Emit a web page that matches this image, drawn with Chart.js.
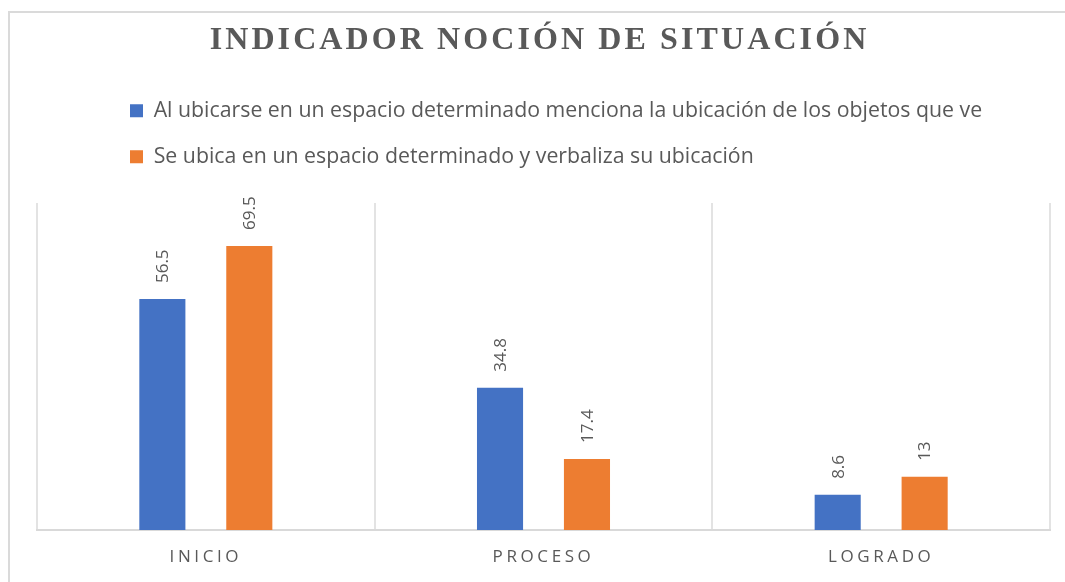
<!DOCTYPE html>
<html><head><meta charset="utf-8">
<script src="https://cdn.jsdelivr.net/npm/chart.js@4/dist/chart.umd.min.js"></script>
<style>
html,body{margin:0;padding:0;background:#fff;}
#wrap{position:relative;width:1065px;height:582px;overflow:hidden;background:#fff;}
#frame{position:absolute;left:8px;top:11px;width:1200px;height:700px;border:2px solid #dadada;box-sizing:border-box;}
canvas{position:absolute;left:0;top:0;}
</style></head><body>
<div id="wrap"><div id="frame"></div><canvas id="c" width="1065" height="582"></canvas></div>
<script>
// ---- data ----
const chartTitle = 'INDICADOR NOCIÓN DE SITUACIÓN';
const categories = ['INICIO', 'PROCESO', 'LOGRADO'];
const seriesNames = [
  'Al ubicarse en un espacio determinado menciona la ubicación de los objetos que ve',
  'Se ubica en un espacio determinado y verbaliza su ubicación'
];
const seriesA = [56.5, 34.8, 8.6];
const seriesB = [69.5, 17.4, 13];
const seriesColors = ['#4472C4', '#ED7D31'];
const yMin = 0;
const yMax = 80;

// ---- layout constants ----
const LEGEND_LEFT = 105.3;
const LEGEND_EXTRA = 25.7;
const TITLE_SHIFT = -4;
const GRAY = '#595959';
const SANS = '"Open Sans", "Noto Sans", sans-serif';

function wrapSpacing(obj, method, ls, dx) {
  if (!obj || obj['_ls_' + method]) return;
  const orig = obj[method];
  obj[method] = function (...args) {
    const ctx = this.ctx;
    ctx.save();
    ctx.letterSpacing = ls;
    if (dx) ctx.translate(dx, 0);
    orig.apply(this, args);
    ctx.restore();
  };
  obj['_ls_' + method] = true;
}

const stylePlugin = {
  id: 'stylePlugin',
  beforeLayout(chart) {
    const lg = chart.legend;
    if (lg && !lg._patchedFit) {
      const fit = lg.fit;
      lg.fit = function () { fit.call(this); this.height += LEGEND_EXTRA; };
      lg._patchedFit = true;
    }
  },
  afterLayout(chart) {
    const lg = chart.legend;
    if (lg) {
      lg.left = LEGEND_LEFT;
      if (lg.adjustHitBoxes) lg.adjustHitBoxes();
    }
  },
  beforeDraw(chart) {
    wrapSpacing(chart.scales.x, 'drawLabels', '3.6px', 0);
    wrapSpacing(chart.titleBlock, 'draw', '3.1px', TITLE_SHIFT);
  },
  afterDatasetsDraw(chart) {
    const ctx = chart.ctx;
    chart.data.datasets.forEach((ds, di) => {
      const meta = chart.getDatasetMeta(di);
      meta.data.forEach((bar, i) => {
        const p = bar.getProps(['x', 'y'], true);
        ctx.save();
        ctx.translate(p.x + 1, p.y - 16);
        ctx.rotate(-Math.PI / 2);
        ctx.font = '17px ' + SANS;
        ctx.fillStyle = GRAY;
        ctx.textAlign = 'left';
        ctx.textBaseline = 'middle';
        ctx.fillText(String(ds.data[i]), 0, 0);
        ctx.restore();
      });
    });
  }
};

new Chart(document.getElementById('c'), {
  type: 'bar',
  data: {
    labels: categories,
    datasets: [
      { label: seriesNames[0], data: seriesA, backgroundColor: seriesColors[0], borderWidth: 0,
        categoryPercentage: 0.515, barPercentage: 0.53 },
      { label: seriesNames[1], data: seriesB, backgroundColor: seriesColors[1], borderWidth: 0,
        categoryPercentage: 0.515, barPercentage: 0.53 }
    ]
  },
  options: {
    responsive: false,
    animation: false,
    layout: { padding: { left: 37, right: 15, top: 0, bottom: 0 } },
    plugins: {
      title: {
        display: true,
        text: chartTitle,
        color: GRAY,
        font: { family: '"Liberation Serif", "Times New Roman", serif', size: 32, weight: 'bold', lineHeight: 1.2 },
        padding: { top: 22, bottom: 14.9 }
      },
      legend: {
        display: true,
        position: 'top',
        align: 'start',
        labels: {
          color: GRAY,
          font: { family: SANS, size: 21.3 },
          boxWidth: 13,
          boxHeight: 13,
          padding: 24.7
        }
      },
      tooltip: { enabled: false }
    },
    scales: {
      x: {
        grid: { display: true, offset: true, drawTicks: false, color: '#e3e3e3', lineWidth: 2 },
        border: { display: true, color: '#d9d9d9', width: 2 },
        ticks: { color: GRAY, font: { family: SANS, size: 17 }, padding: 17 },
        afterFit(scale) { scale.height = 52; }
      },
      y: {
        display: false,
        min: yMin,
        max: yMax
      }
    }
  },
  plugins: [stylePlugin]
});
</script>
</body></html>
